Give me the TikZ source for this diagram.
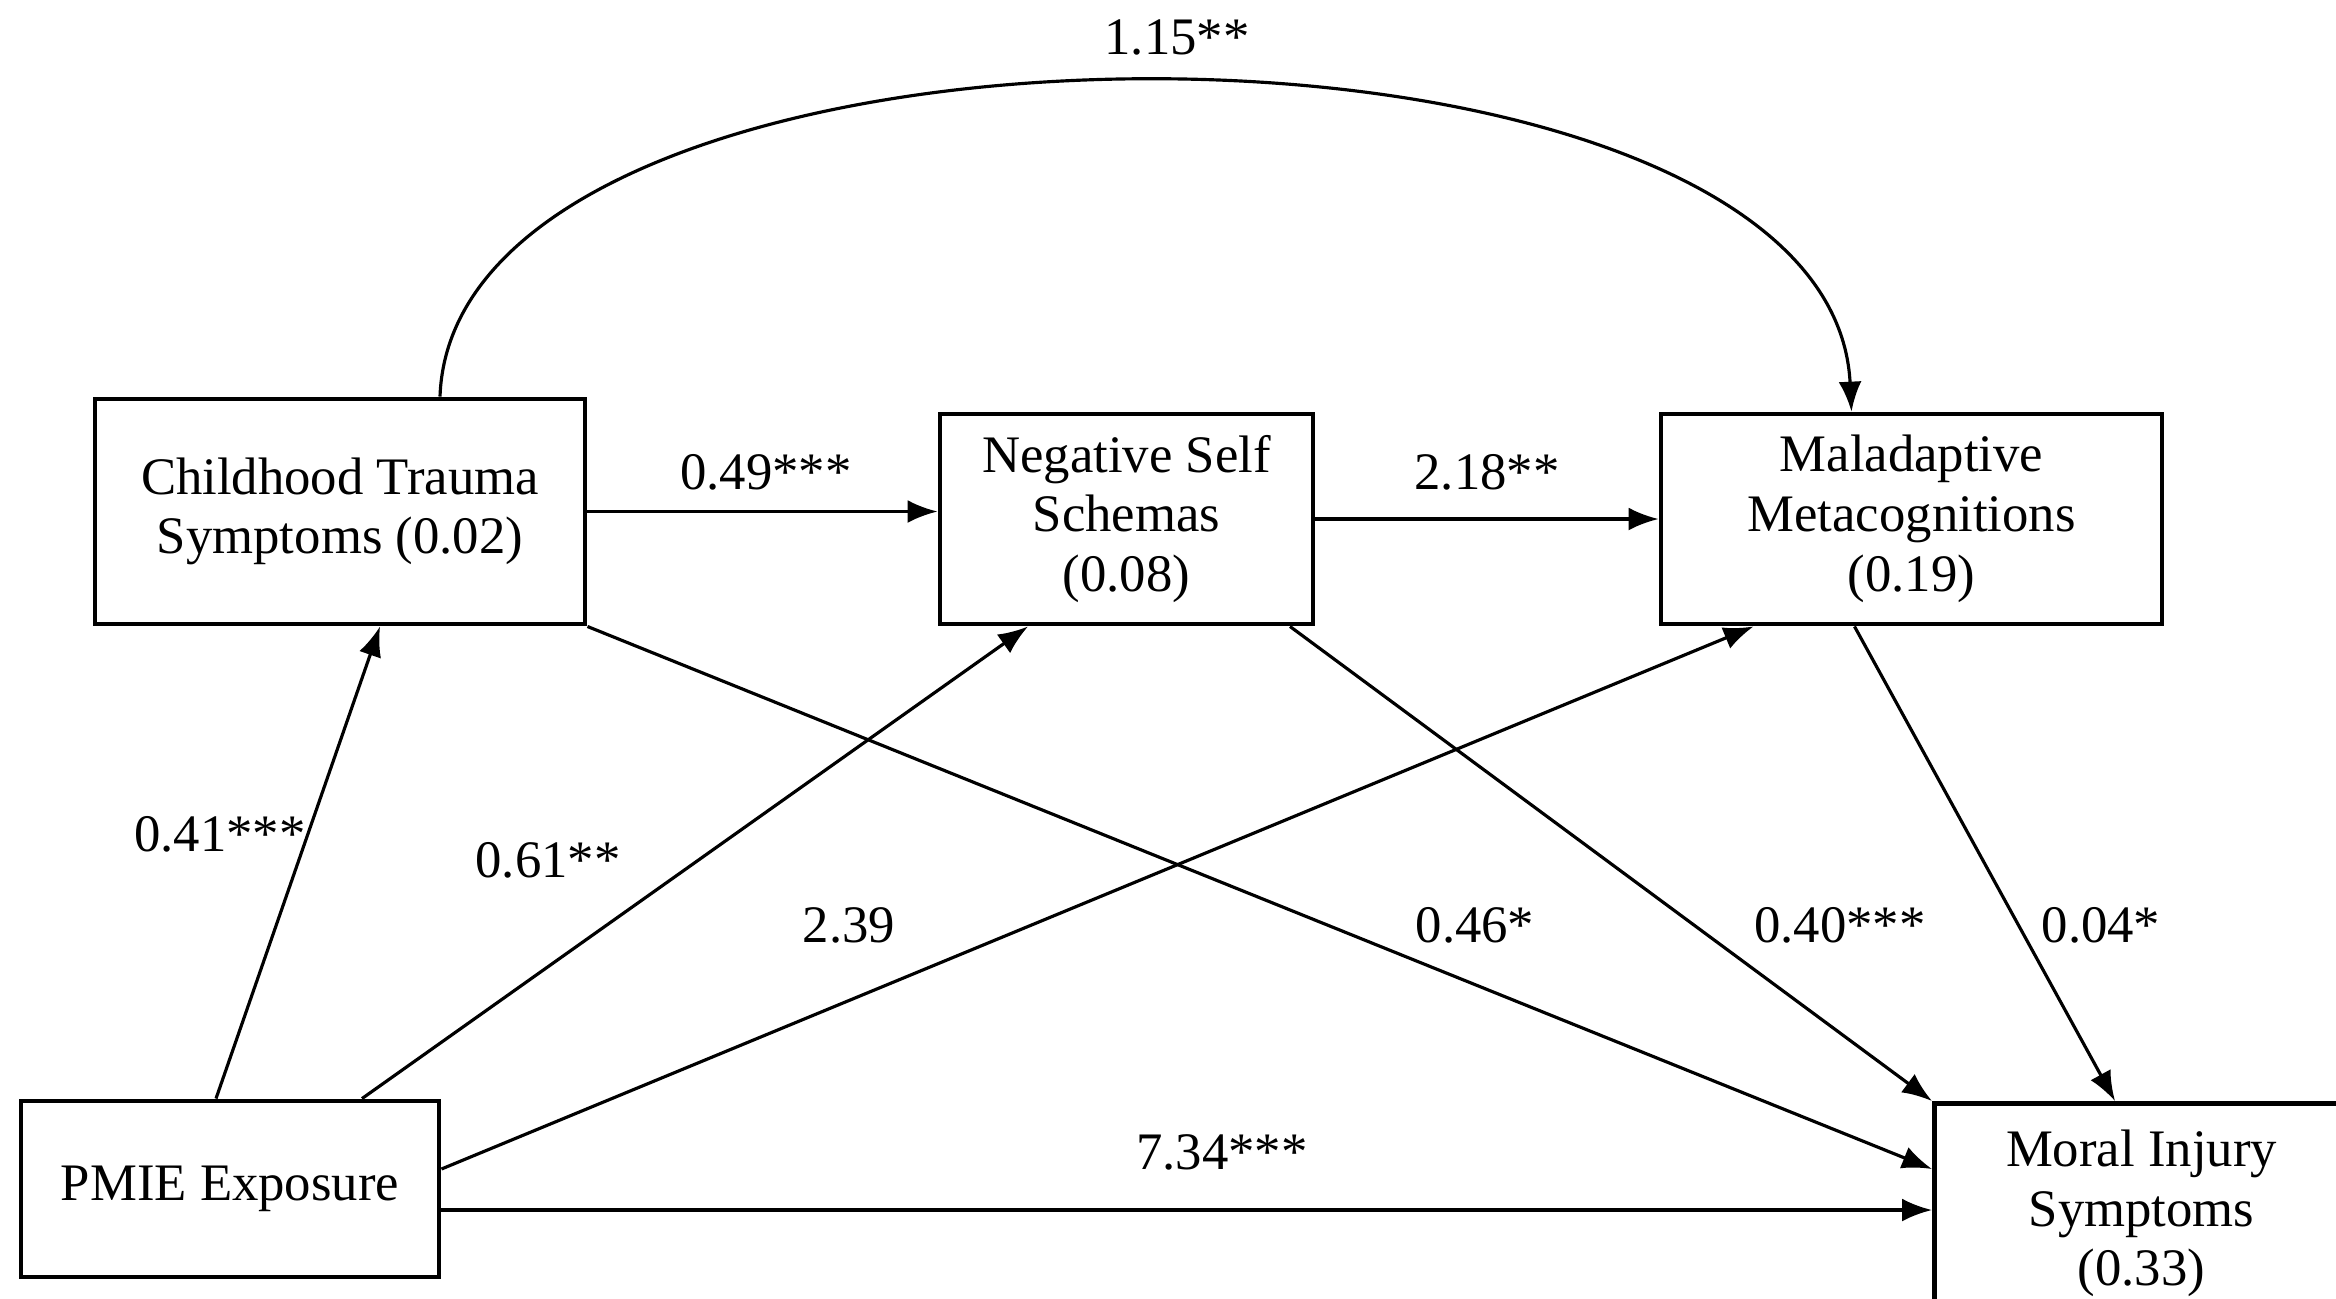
\documentclass[tikz,border=0pt]{standalone}
\usepackage{fontspec}
\setmainfont{Liberation Serif}
\usetikzlibrary{arrows.meta,calc}

\tikzset{
  varbox/.style={draw,line width=1.4pt,align=center,inner sep=0pt,fill=white},
  path/.style={line width=0.9pt,-{Latex[length=8.5pt,width=6.5pt]}},
  coef/.style={inner sep=1pt}
}

\begin{document}
\begin{tikzpicture}[line join=miter,font=\fontsize{15}{17}\selectfont]
	\useasboundingbox (0,0) rectangle (23.36,-12.98);
	\clip (0,0) rectangle (23.36,-12.98);
	\fill[white] (0,0) rectangle (23.36,-12.98);
	
	% boxes
	\node[varbox,minimum width=4.9cm,minimum height=2.25cm] (child) at (3.40,-5.115) {Childhood Trauma\\Symptoms (0.02)};
	\node[varbox,minimum width=3.73cm,minimum height=2.10cm] (neg) at (11.265,-5.19) {Negative Self\\Schemas\\(0.08)};
	\node[varbox,minimum width=5.01cm,minimum height=2.10cm] (mal) at (19.115,-5.19) {Maladaptive\\Metacognitions\\(0.19)};
	\node[varbox,minimum width=4.18cm,minimum height=1.76cm] (pmie) at (2.30,-11.89) {PMIE Exposure};
	\node[varbox,minimum width=4.14cm,minimum height=2.20cm,anchor=north west] (moral) at (19.32,-11.01) {Moral Injury\\Symptoms\\(0.33)};
	
	% paths
	\draw[path] ([xshift=1cm]child.north) .. controls (4.55,0.25) and (18.3,0.25) .. ([xshift=-0.6cm]mal.north);
	\draw[path] (child.east) -- (child.east -| neg.west);
	\draw[path] (neg.east) -- (mal.west);
	\draw[path] ([xshift=-0.14cm]pmie.north) -- ([xshift=0.4cm]child.south);
	\draw[path] ([xshift=1.32cm]pmie.north) -- ([xshift=-0.985cm]neg.south);
	\draw[path] ([yshift=0.2cm]pmie.east) -- ([xshift=-1.58cm]mal.south);
	\draw[path] ([yshift=-0.21cm]pmie.east) -- ([yshift=-0.21cm]pmie.east -| moral.west);
	\draw[path] (child.south east) -- ([yshift=-0.68cm]moral.north west);
	\draw[path] ([xshift=1.635cm]neg.south) -- (moral.north west);
	\draw[path] ([xshift=-0.57cm]mal.south) -- ([xshift=1.83cm]moral.north west);
	
	% coefficients
	\node[coef] (c115) at (11.77,-0.37) {1.15**};
	\node[coef] (c049) at (7.66,-4.72) {0.49***};
	\node[coef] (c218) at (14.87,-4.72) {2.18**};
	\node[coef] (c041) at (2.20,-8.34) {0.41***};
	\node[coef] (c061) at (5.48,-8.60) {0.61**};
	\node[coef] (c239) at (8.49,-9.25) {2.39};
	\node[coef] (c046) at (14.75,-9.25) {0.46*};
	\node[coef] (c040) at (18.40,-9.25) {0.40***};
	\node[coef] (c004) at (21.01,-9.25) {0.04*};
	\node[coef] (c734) at (12.22,-11.52) {7.34***};
\end{tikzpicture}
\end{document}
